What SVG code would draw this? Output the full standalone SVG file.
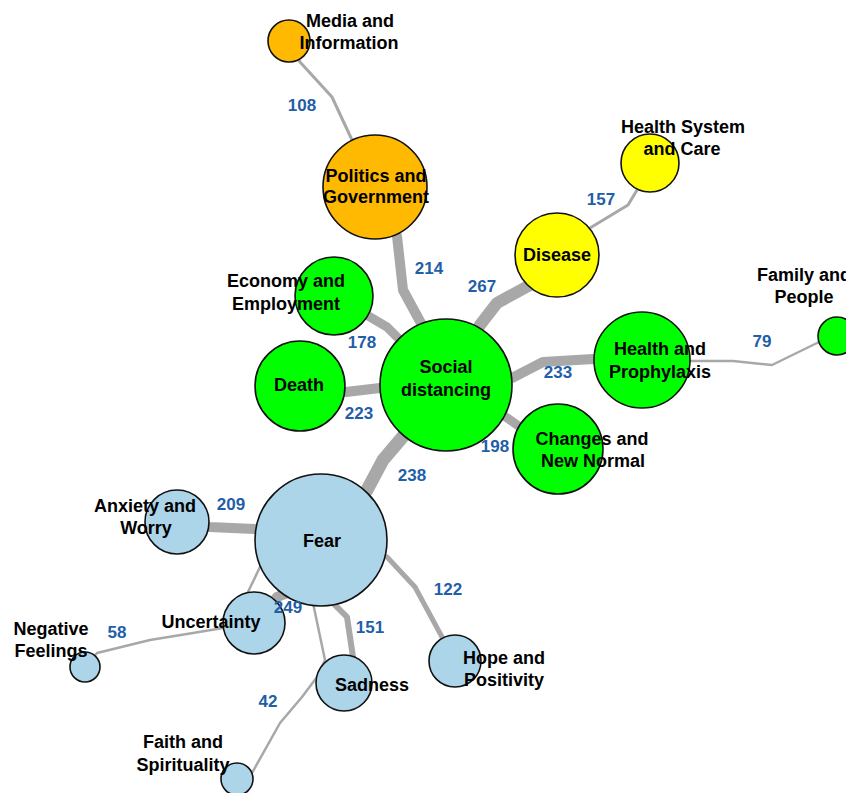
<svg xmlns="http://www.w3.org/2000/svg" width="846" height="793" viewBox="0 0 846 793">
<style>
.e{fill:none;stroke:#a8a8a8;stroke-linejoin:round;stroke-linecap:round}
.n{stroke:#111;stroke-width:1.6}
.or{fill:#ffb900}.ye{fill:#ffff00}.gr{fill:#00ff00}.bl{fill:#add5ea}
.t{font-family:"Liberation Sans",Arial,sans-serif;font-weight:bold;font-size:18px;fill:#000;text-anchor:middle}
.w{font-family:"Liberation Sans",Arial,sans-serif;font-weight:bold;font-size:17px;fill:#1f5ea8;text-anchor:middle}
</style>
<rect width="846" height="793" fill="#fff"/>
<g id="connectors">
<polyline class="e" stroke-width="3" points="289,41 300,62 332,97 352,140 375,187"/>
<polyline class="e" stroke-width="10" points="375,187 397,236 403,290 422,325 446,385"/>
<polyline class="e" stroke-width="12" points="557,255 530,285 497,303 480,325 446,385"/>
<polyline class="e" stroke-width="3" points="557,255 590,228 628,205 637,190 650,163"/>
<polyline class="e" stroke-width="9" points="446,385 397,337 387,327 370,317 334,296"/>
<polyline class="e" stroke-width="10" points="446,385 380,388 346,392 300,386"/>
<polyline class="e" stroke-width="10" points="446,385 512,378 543,362 593,359 642,360"/>
<polyline class="e" stroke-width="2.5" points="642,360 691,361 733,361 772,365 817,343 837,336"/>
<polyline class="e" stroke-width="9" points="446,385 500,413 520,427 558,449"/>
<polyline class="e" stroke-width="13" points="446,385 400,440 383,460 367,490 321,540"/>
<polyline class="e" stroke-width="10" points="321,540 255,529 209,527 177,522"/>
<polyline class="e" stroke-width="10" points="321,540 290,592 277,597 254,623"/>
<polyline class="e" stroke-width="2.5" points="321,540 260,567 248,592 235,615 223,628 193,633 150,640 97,653 85,667"/>
<polyline class="e" stroke-width="6" points="321,540 333,603 347,617 353,657 344,683"/>
<polyline class="e" stroke-width="2.5" points="321,540 313,603 325,660 320,670 317,677 302,697 280,723 252,773 237,778"/>
<polyline class="e" stroke-width="5" points="321,540 387,557 415,587 442,637 455,661"/>
</g>
<g id="node-media"><circle class="n or" cx="289" cy="41" r="21"/><text class="t" x="350" y="27">Media and</text><text class="t" x="349" y="49">Information</text></g>
<g id="node-politics"><circle class="n or" cx="375" cy="187" r="52"/><text class="t" x="376" y="182">Politics and</text><text class="t" x="376" y="203">Government</text></g>
<g id="node-healthsystem"><circle class="n ye" cx="650" cy="163" r="29"/><text class="t" x="683" y="133">Health System</text><text class="t" x="682" y="155">and Care</text></g>
<g id="node-disease"><circle class="n ye" cx="557" cy="255" r="42"/><text class="t" x="557" y="261">Disease</text></g>
<g id="node-family"><circle class="n gr" cx="837" cy="336" r="19"/><text class="t" x="804" y="281">Family and</text><text class="t" x="804" y="303">People</text></g>
<g id="node-economy"><circle class="n gr" cx="334" cy="296" r="39"/><text class="t" x="286" y="287">Economy and</text><text class="t" x="286" y="310">Employment</text></g>
<g id="node-death"><circle class="n gr" cx="300" cy="386" r="45"/><text class="t" x="299" y="391">Death</text></g>
<g id="node-social"><circle class="n gr" cx="446" cy="385" r="66"/><text class="t" x="446" y="373">Social</text><text class="t" x="446" y="396">distancing</text></g>
<g id="node-healthprophylaxis"><circle class="n gr" cx="642" cy="360" r="48"/><text class="t" x="660" y="355">Health and</text><text class="t" x="660" y="378">Prophylaxis</text></g>
<g id="node-changes"><circle class="n gr" cx="558" cy="449" r="45"/><text class="t" x="592" y="445">Changes and</text><text class="t" x="593" y="467">New Normal</text></g>
<g id="node-fear"><circle class="n bl" cx="321" cy="540" r="66"/><text class="t" x="322" y="547">Fear</text></g>
<g id="node-anxiety"><circle class="n bl" cx="177" cy="522" r="32"/><text class="t" x="145" y="512">Anxiety and</text><text class="t" x="146" y="534">Worry</text></g>
<g id="node-uncertainty"><circle class="n bl" cx="254" cy="623" r="31"/><text class="t" x="211" y="628">Uncertainty</text></g>
<g id="node-negative"><circle class="n bl" cx="85" cy="667" r="15"/><text class="t" x="51" y="635">Negative</text><text class="t" x="51" y="657">Feelings</text></g>
<g id="node-sadness"><circle class="n bl" cx="344" cy="683" r="28"/><text class="t" x="372" y="691">Sadness</text></g>
<g id="node-faith"><circle class="n bl" cx="237" cy="779" r="16"/><text class="t" x="183" y="748">Faith and</text><text class="t" x="183" y="771">Spirituality</text></g>
<g id="node-hope"><circle class="n bl" cx="455" cy="661" r="26"/><text class="t" x="504" y="664">Hope and</text><text class="t" x="504" y="686">Positivity</text></g>
<g id="edge-labels">
<text class="w" x="302" y="111">108</text>
<text class="w" x="429" y="274">214</text>
<text class="w" x="482" y="292">267</text>
<text class="w" x="601" y="205">157</text>
<text class="w" x="362" y="348">178</text>
<text class="w" x="359" y="419">223</text>
<text class="w" x="495" y="452">198</text>
<text class="w" x="412" y="481">238</text>
<text class="w" x="558" y="378">233</text>
<text class="w" x="762" y="347">79</text>
<text class="w" x="231" y="510">209</text>
<text class="w" x="288" y="613">249</text>
<text class="w" x="117" y="638">58</text>
<text class="w" x="370" y="633">151</text>
<text class="w" x="268" y="707">42</text>
<text class="w" x="448" y="595">122</text>
</g>
</svg>
